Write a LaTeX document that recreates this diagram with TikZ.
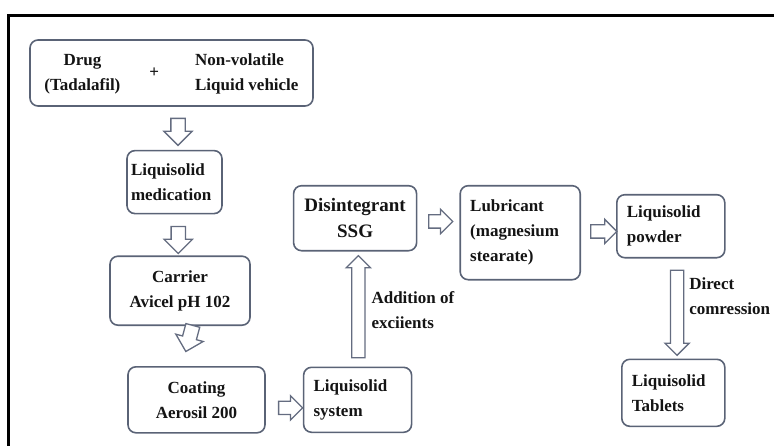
\documentclass[tikz,border=0pt]{standalone}
\usepackage{fontspec}
\setmainfont{Liberation Serif}
\usepackage{xcolor}
\definecolor{BoxLine}{HTML}{5A6376}
\definecolor{ArrowLine}{HTML}{646C80}
\definecolor{InkDark}{HTML}{141414}
\usetikzlibrary{positioning, calc, shapes.arrows}
\tikzset{
  bx/.style={rectangle, rounded corners=8pt, draw=BoxLine, line width=1.6pt,
             text=InkDark, inner xsep=10pt, inner ysep=3pt,
             font=\bfseries\fontsize{17}{25}\selectfont},
  bc/.style={bx, align=center, minimum width=#1},
  bl/.style={bx, align=left, text width=#1},
  harr/.style={single arrow, draw=ArrowLine, line width=1.3pt, fill=white,
               inner sep=0pt, inner ysep=6.5pt, single arrow head extend=7pt,
               minimum width=27pt, minimum height=#1},
  narr/.style={harr=#1, inner ysep=6pt, single arrow head extend=5.5pt,
               minimum width=23pt},
  lbl/.style={font=\bfseries\fontsize{17}{25}\selectfont, text=InkDark, align=left,
              anchor=west, inner sep=0pt},
  frame/.style={line width=3pt, draw=black},
}

\begin{document}
\begin{tikzpicture}[x=1pt, y=-1pt]

  \useasboundingbox (0,0) rectangle (774,445);
  \clip (0,0) rectangle (774,445);
  \draw[frame] (8,470) |- (800,15);

  % Drug + vehicle
  \node[bx, minimum width=283pt, minimum height=66pt] (drug) at (171.5,73)
    {\begin{tabular}{@{}c@{}}Drug\\(Tadalafil)\end{tabular}\hspace{29pt}+\hspace{36pt}%
     \begin{tabular}{@{}l@{}}Non-volatile\\Liquid vehicle\end{tabular}};

  % left column
  \node[bl=87pt, inner xsep=4pt, minimum height=63pt, below=43pt of drug, xshift=3pt] (med)
    {Liquisolid\\medication};
  \node[bc=140pt, minimum height=69pt, below=41pt of med, xshift=5.5pt] (carrier)
    {Carrier\\Avicel pH 102};
  \node[bc=137pt, minimum height=66pt, below=40pt of carrier, xshift=16.5pt] (coating)
    {Coating\\Aerosil 200};

  % liquisolid system
  \node[bl=88pt, minimum height=65pt, right=37pt of coating] (system)
    {Liquisolid\\system};

  % disintegrant
  \node[bc=123pt, minimum height=65pt, inner xsep=2pt, above=115pt of system, xshift=-2.5pt,
        font=\bfseries\fontsize{19}{26}\selectfont] (disint)
    {Disintegrant\\SSG};

  % lubricant
  \node[bl=100pt, minimum height=94pt, right=42pt of disint, yshift=-14.5pt] (lub)
    {Lubricant\\(magnesium\\stearate)};

  % powder
  \node[bl=88pt, minimum height=63pt, right=35pt of lub, yshift=6.5pt] (powder)
    {Liquisolid\\powder};

  % tablets
  \node[bl=83pt, minimum height=67pt, below=100pt of powder, xshift=2.5pt] (tablets)
    {Liquisolid\\Tablets};

  % Arrows
  \node[harr=27pt, rotate=-90] (a1) at ($(drug.south)!0.5!(med.north)+(5,0)$) {};
  \node[harr=27pt, rotate=-90] (a2) at ($(med.south)!0.5!(carrier.north)+(1,1.5)$) {};
  \node[harr=27pt, rotate=-105] (a3) at ($(carrier.south)!0.5!(coating.north)+(2,-11)$) {};
  \node[narr=24pt] (a4) at ($(coating.east)!0.5!(system.west)+(3,8)$) {};
  \node[narr=102pt, rotate=90] (a5) at ($(system.north)!0.5!(disint.south)+(2,1)$) {};
  \node[narr=24pt] (a6) at ($(disint.east)!0.5!(lub.west)+(-1,-4)$) {};
  \node[narr=26pt] (a7) at ($(lub.east)!0.5!(powder.west)+(2,2)$) {};
  \node[narr=85pt, rotate=-90] (a8) at ($(powder.south)!0.5!(tablets.north)+(5,1)$) {};

  % arrow labels
  \node[lbl] (addlbl) at ($(a5.center)+(13,0)$) {Addition of\\exciients};
  \node[lbl] (dirlbl) at ($(a8.center)+(12,-13.5)$) {Direct\\comression};

\end{tikzpicture}
\end{document}
